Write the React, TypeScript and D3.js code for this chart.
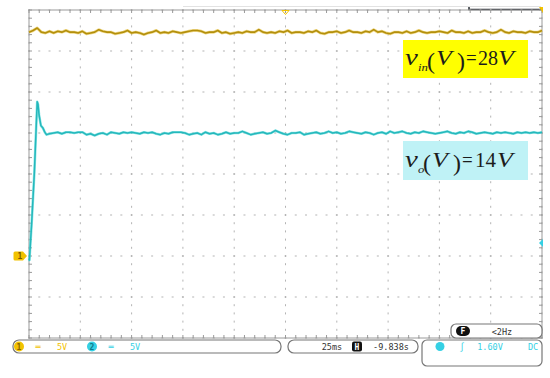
import * as d3 from "d3";
import React from "react";

const WIDTH = 550;
const HEIGHT = 378;

// scope settings: 25 ms/div, 5 V/div on both channels, both grounds on the same level
const timeDomain = [0, 250];
const voltDomain = [-10, 30];
const triggerLevel = 1.6;

// channel 1 (v_in), one sample every 2 ms
const vinStep = 2;
const vinValues = [
  27.3, 27.5, 27.8, 27.3, 27.2, 27.4, 27.2, 27.4, 27.3, 27.5,
  27.3, 27.3, 27.2, 27.4, 27.1, 27.2, 27.3, 27.6, 27.4, 27.3,
  27.3, 27.1, 27.2, 27.3, 27.5, 27.2, 27.3, 27.2, 27.0, 27.2,
  27.3, 27.5, 27.2, 27.3, 27.2, 27.4, 27.3, 27.2, 27.3, 27.4,
  27.5, 27.5, 27.4, 27.2, 27.3, 27.3, 27.5, 27.2, 27.3, 27.1,
  27.2, 27.3, 27.2, 27.4, 27.3, 27.3, 27.6, 27.3, 27.2, 27.3,
  27.2, 27.4, 27.3, 27.5, 27.2, 27.3, 27.3, 27.2, 27.4, 27.3,
  27.5, 27.2, 27.1, 27.3, 27.3, 27.4, 27.2, 27.3, 27.5, 27.3,
  27.3, 27.2, 27.4, 27.3, 27.6, 27.3, 27.4, 27.2, 27.1, 27.3,
  27.3, 27.2, 27.4, 27.2, 27.3, 27.5, 27.3, 27.2, 27.3, 27.3,
  27.4, 27.3, 27.2, 27.5, 27.3, 27.3, 27.2, 27.4, 27.2, 27.3,
  27.3, 27.5, 27.3, 27.2, 27.3, 27.6, 27.3, 27.2, 27.4, 27.3,
  27.3, 27.2, 27.4, 27.3, 27.3, 27.5,
];

// channel 2 (v_o) start-up transient
const voTransientT = [0, 0.2, 1.3, 2.6, 4.0, 4.4, 4.9, 5.8, 6.8, 7.7, 8.5];
const voTransientV = [-0.3, -0.5, 4.0, 10.1, 18.8, 18.5, 17.2, 15.9, 15.6, 15.1, 14.8];

// channel 2 after settling, from 10 ms, one sample every 2 ms
const voSteadyStart = 10;
const voSteadyStep = 2;
const voSteadyValues = [
  14.9, 15.0, 15.1, 14.9, 15.1, 15.1, 15.0, 15.1, 15.1, 14.8,
  14.9, 14.7, 14.9, 15.0, 14.8, 15.1, 15.0, 14.9, 15.1, 15.0,
  15.1, 15.0, 14.9, 15.1, 15.0, 15.1, 14.9, 14.8, 15.0, 14.9,
  15.1, 15.1, 15.1, 15.0, 14.8, 14.9, 15.0, 14.8, 15.1, 14.9,
  15.0, 14.8, 14.9, 15.1, 14.9, 15.0, 15.0, 15.2, 15.0, 14.8,
  14.9, 15.0, 15.1, 14.9, 15.0, 15.3, 15.1, 14.9, 14.8, 15.0,
  15.0, 15.1, 14.8, 14.9, 15.0, 15.1, 14.9, 15.0, 15.2, 15.0,
  15.1, 14.9, 15.0, 15.2, 15.1, 15.0, 14.9, 15.1, 15.0, 14.8,
  15.0, 15.1, 14.9, 15.2, 15.0, 15.1, 15.2, 15.0, 14.9, 15.1,
  15.0, 15.2, 15.1, 15.0, 14.9, 15.0, 15.1, 15.2, 15.0, 14.9,
  15.1, 15.0, 15.2, 15.1, 14.9, 15.0, 15.1, 15.0, 14.9, 15.1,
  15.0, 15.1, 15.0, 14.9, 15.1, 15.0, 15.1, 15.0, 15.1, 15.0,
  15.1,
];

const ch1Scale = "5V";
const ch2Scale = "5V";
const timebase = "25ms";
const horizPos = "-9.838s";
const trigLevelText = "1.60V";
const trigCoupling = "DC";
const freqText = "<2Hz";

const YELLOW = "#f2c200";
const CYAN = "#35d0e4";
const GRID = "#b4b4b4";
const MONO = "'DejaVu Sans Mono', monospace";
const SERIF = "'Liberation Serif', 'DejaVu Serif', serif";

// one piece of the equation labels: text, left x, baseline, size, italic, horizontal stretch
type Piece = [string, number, number, number, boolean, number];

const Equation = ({ pieces }: { pieces: Piece[] }) => (
  <g fill="#1c1c1c" fontFamily={SERIF}>
    {pieces.map(([s, px, py, size, it, sx], i) => (
      <text key={i} transform={`translate(${px},${py}) scale(${sx},1)`} fontSize={size} fontStyle={it ? "italic" : "normal"}>
        {s}
      </text>
    ))}
  </g>
);

const App = () => {
  const x = d3.scaleLinear().domain(timeDomain).range([29, 542]);
  const y = d3.scaleLinear().domain(voltDomain).range([338, 10]);

  const majorT = d3.range(timeDomain[0], timeDomain[1] + 1, 25);
  const minorT = d3.range(timeDomain[0], timeDomain[1] + 1, 5);
  const majorV = d3.range(voltDomain[0], voltDomain[1] + 1, 5);
  const minorV = d3.range(voltDomain[0], voltDomain[1] + 1, 1);

  const vin: [number, number][] = vinValues.map((v, i) => [i * vinStep, v]);
  const vo: [number, number][] = voTransientT
    .map((t, i) => [t, voTransientV[i]] as [number, number])
    .concat(voSteadyValues.map((v, i) => [voSteadyStart + i * voSteadyStep, v] as [number, number]));

  const line = d3
    .line<[number, number]>()
    .x((d) => x(d[0]))
    .y((d) => y(d[1]));

  const [x0, x1] = x.range();
  const [yB, yT] = y.range();
  const gnd = y(0);

  const vinLabel: Piece[] = [
    ["v", 405, 64.5, 24, true, 1.2],
    ["in", 418, 71, 11, true, 1.15],
    ["(", 427, 69, 24, false, 1],
    ["V", 436, 64.5, 20, true, 1.3],
    [")", 457, 69, 24, false, 1],
    ["=", 466, 64.5, 20, false, 0.95],
    ["28", 478, 64.5, 20, false, 1],
    ["V", 498, 64.5, 20, true, 1.3],
  ];
  const voLabel: Piece[] = [
    ["v", 405, 166.5, 24, true, 1.2],
    ["o", 418, 173, 11, true, 1.15],
    ["(", 423, 171, 24, false, 1],
    ["V", 432, 166.5, 20, true, 1.3],
    [")", 453, 171, 24, false, 1],
    ["=", 462, 166.5, 20, false, 0.95],
    ["14", 475, 166.5, 20, false, 1.05],
    ["V", 497, 166.5, 20, true, 1.3],
  ];

  return (
    <div style={{ position: "fixed", left: 0, top: 0 }}>
      <svg width={WIDTH} height={HEIGHT} viewBox={`0 0 ${WIDTH} ${HEIGHT}`} style={{ display: "block", background: "#fff" }}>
        {/* top decorations */}
        <line x1={183} x2={541} y1={6.5} y2={6.5} stroke="#e2e2e2" strokeWidth={1} />
        <path d={`M469,7 V9.5 H541 V7`} fill="none" stroke="#2a2f36" strokeWidth={1.5} />

        {/* grid dots */}
        <g fill={GRID}>
          {majorT.map((t) =>
            minorV.map((v) => <rect key={`v${t}_${v}`} x={x(t) - 0.5} y={y(v) - 1} width={1} height={2} />)
          )}
          {majorV.map((v) =>
            minorT.map((t) => <rect key={`h${t}_${v}`} x={x(t) - 1} y={y(v) - 0.5} width={2} height={1} />)
          )}
        </g>

        {/* border ticks */}
        <g stroke="#9a9a9a" strokeWidth={1}>
          {minorT.map((t) => (
            <g key={`bt${t}`}>
              <line x1={x(t)} x2={x(t)} y1={yT} y2={yT + 3} />
              <line x1={x(t)} x2={x(t)} y1={yB} y2={yB - 3} />
            </g>
          ))}
          {minorV.map((v) => (
            <g key={`bv${v}`}>
              <line x1={x0} x2={x0 + 3} y1={y(v)} y2={y(v)} />
              <line x1={x1} x2={x1 - 3} y1={y(v)} y2={y(v)} />
            </g>
          ))}
        </g>
        <rect x={x0} y={yT} width={x1 - x0} height={yB - yT} fill="none" stroke="#9a9a9a" strokeWidth={1} />

        {/* traces */}
        <path d={line(vin) ?? ""} fill="none" stroke="#e6bf3a" strokeWidth={3} strokeLinejoin="round" opacity={0.6} />
        <path d={line(vin) ?? ""} fill="none" stroke="#b38f0c" strokeWidth={1.6} strokeLinejoin="round" />
        <path d={line(vo) ?? ""} fill="none" stroke="#5fdcdc" strokeWidth={2.6} strokeLinejoin="round" opacity={0.7} />
        <path d={line(vo) ?? ""} fill="none" stroke="#25b8bc" strokeWidth={1.5} strokeLinejoin="round" />

        {/* markers */}
        <path d={`M${x(125) - 3.5},${yT + 0.5} h7 l-3.5,4 z`} fill="none" stroke={YELLOW} strokeWidth={1} />
        <path d={`M${x1 - 3},${yT - 3} h4 v6 z`} fill={YELLOW} />
        <path d={`M15,${gnd - 4.5} h8 l4,4.5 l-4,4.5 h-8 q-1.5,0 -1.5,-1.5 v-6 q0,-1.5 1.5,-1.5 z`} fill={YELLOW} />
        <text x={20} y={gnd + 3.2} fontSize={8} fontFamily={MONO} fontWeight="bold" fill="#7a5a00" textAnchor="middle">1</text>
        <path d={`M${x1 + 1},${y(triggerLevel) - 4} v8 l-4,-4 z`} fill={CYAN} />

        {/* value labels */}
        <rect x={403} y={40} width={125} height={38} fill="#ffff00" />
        <Equation pieces={vinLabel} />
        <rect x={403} y={141} width={125} height={39} fill="#bff2f6" />
        <Equation pieces={voLabel} />

        {/* status bar */}
        <g fontFamily={MONO} fontSize={8.5}>
          <rect x={451} y={324} width={91} height={14} rx={5} fill="#fff" stroke="#777" strokeWidth={1.2} />
          <rect x={456} y={326} width={14} height={10} rx={5} fill="#111" />
          <text x={463} y={334} fill="#fff" textAnchor="middle" fontSize={8} fontWeight="bold">F</text>
          <text x={502} y={334.5} fill="#333" textAnchor="middle">{freqText}</text>

          <rect x={13} y={340} width={268} height={13} rx={6} fill="#fff" stroke="#777" strokeWidth={1.2} />
          <circle cx={19} cy={346.5} r={5} fill={YELLOW} />
          <text x={19} y={349.5} fill="#8a6400" textAnchor="middle" fontSize={8} fontWeight="bold">1</text>
          <text x={38} y={349.5} fill={YELLOW} textAnchor="middle">═</text>
          <text x={62} y={349.5} fill={YELLOW} textAnchor="middle">{ch1Scale}</text>
          <circle cx={92} cy={346.5} r={5} fill={CYAN} />
          <text x={92} y={349.5} fill="#0c7c8c" textAnchor="middle" fontSize={8} fontWeight="bold">2</text>
          <text x={111} y={349.5} fill={CYAN} textAnchor="middle">═</text>
          <text x={135} y={349.5} fill={CYAN} textAnchor="middle">{ch2Scale}</text>

          <rect x={288} y={340} width={130} height={13} rx={6} fill="#fff" stroke="#777" strokeWidth={1.2} />
          <text x={332} y={349.5} fill="#333" textAnchor="middle">{timebase}</text>
          <rect x={352} y={341.5} width={10} height={10} rx={2} fill="#111" />
          <text x={357} y={349.5} fill="#fff" textAnchor="middle" fontSize={8} fontWeight="bold">H</text>
          <text x={391} y={349.5} fill="#333" textAnchor="middle">{horizPos}</text>

          <rect x={422} y={340} width={120} height={26} rx={5} fill="#fff" stroke="#777" strokeWidth={1.2} />
          <circle cx={440} cy={346.5} r={4.5} fill={CYAN} />
          <text x={462} y={349.5} fill={CYAN} textAnchor="middle">∫</text>
          <text x={490} y={349.5} fill={CYAN} textAnchor="middle">{trigLevelText}</text>
          <text x={533} y={349.5} fill={CYAN} textAnchor="middle">{trigCoupling}</text>
        </g>
      </svg>
    </div>
  );
};

export default App;
